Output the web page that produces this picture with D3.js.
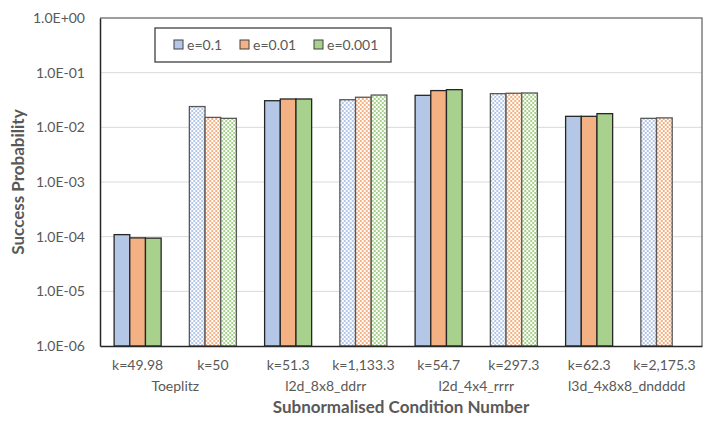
<!doctype html>
<html lang="en">
<head>
<meta charset="utf-8">
<title>Success Probability</title>
<style>
  body { margin: 0; background: #fff; }
  text { font-family: Lato, "Open Sans", sans-serif; }
</style>
</head>
<body>
<svg id="chart" width="718" height="425"></svg>

<script src="https://cdnjs.cloudflare.com/ajax/libs/d3/7.8.5/d3.min.js"></script>
<script>
const conditions = ['k=49.98', 'k=50', 'k=51.3', 'k=1,133.3', 'k=54.7', 'k=297.3', 'k=62.3', 'k=2,175.3'];
const matrices = ['Toeplitz', 'l2d_8x8_ddrr', 'l2d_4x4_rrrr', 'l3d_4x8x8_dndddd'];
const hatched = [false, true, false, true, false, true, false, true];
const seriesNames = ['e=0.1', 'e=0.01', 'e=0.001'];
const e01 = [1.09e-4, 0.024, 0.0307, 0.032, 0.0385, 0.0413, 0.0159, 0.0146];
const e001 = [9.5e-5, 0.0152, 0.033, 0.0355, 0.047, 0.042, 0.0159, 0.0149];
const e0001 = [9.4e-5, 0.0146, 0.033, 0.039, 0.0489, 0.0425, 0.0178, null];
const yTicks = [1e0, 1e-1, 1e-2, 1e-3, 1e-4, 1e-5, 1e-6];
const colors = ['#b4c7e7', '#f4b183', '#a9d18e'];

const series = [e01, e001, e0001];
const svg = d3.select('#chart');
const margin = { top: 18, right: 16, bottom: 79, left: 100 };
const width = 718 - margin.left - margin.right;
const height = 425 - margin.top - margin.bottom;

// checkerboard patterns
const defs = svg.append('defs');
colors.forEach((c, i) => {
  const p = defs.append('pattern')
    .attr('id', 'chk' + i)
    .attr('width', 4).attr('height', 4)
    .attr('patternUnits', 'userSpaceOnUse');
  p.append('rect').attr('width', 4).attr('height', 4).attr('fill', '#fff');
  p.append('rect').attr('width', 2).attr('height', 2).attr('fill', c);
  p.append('rect').attr('x', 2).attr('y', 2).attr('width', 2).attr('height', 2).attr('fill', c);
});

const g = svg.append('g').attr('transform', `translate(${margin.left},${margin.top})`);

const x0 = d3.scaleBand().domain(conditions).range([0, width]).paddingInner(0).paddingOuter(0);
const x1 = d3.scaleBand().domain(d3.range(3)).range([0, x0.bandwidth()]).paddingInner(0).paddingOuter(0.9);
const y = d3.scaleLog().domain([1e-6, 1]).range([height, 0]);

// gridlines
g.append('g').selectAll('line').data(yTicks.slice(1, -1)).join('line')
  .attr('x1', 0).attr('x2', width)
  .attr('y1', d => y(d)).attr('y2', d => y(d))
  .attr('stroke', '#d9d9d9').attr('stroke-width', 1);

// frame top/right
g.append('path')
  .attr('d', `M0,0H${width}V${height}`)
  .attr('fill', 'none').attr('stroke', '#7f7f7f').attr('stroke-width', 1.5);

// bars
const groups = g.append('g').selectAll('g').data(conditions).join('g')
  .attr('transform', d => `translate(${x0(d)},0)`);
groups.selectAll('rect')
  .data((d, i) => series.map((s, j) => ({ v: s[i], j, h: hatched[i] })).filter(b => b.v != null))
  .join('rect')
  .attr('x', b => x1(b.j))
  .attr('width', x1.bandwidth())
  .attr('y', b => y(b.v))
  .attr('height', b => height - y(b.v))
  .attr('fill', b => b.h ? `url(#chk${b.j})` : colors[b.j])
  .attr('stroke', b => b.h ? '#595959' : '#262626')
  .attr('stroke-width', 1.3);

// axes
const yAxis = g.append('g')
  .call(d3.axisLeft(y).tickValues(yTicks).tickFormat(d => '1.0E' + (Math.round(Math.log10(d)) === 0 ? '+00' : '-0' + Math.abs(Math.round(Math.log10(d))))).tickSize(0).tickPadding(15));
yAxis.select('.domain').attr('stroke', '#262626').attr('stroke-width', 1.5);
yAxis.selectAll('text').attr('font-size', 14).attr('fill', '#595959');

const xAxis = g.append('g').attr('transform', `translate(0,${height})`)
  .call(d3.axisBottom(x0).tickSize(0).tickPadding(14));
xAxis.select('.domain').attr('stroke', '#262626').attr('stroke-width', 1.5);
xAxis.selectAll('text').attr('font-size', 14).attr('fill', '#595959');

// matrix labels, centred under pairs
g.append('g').selectAll('text').data(matrices).join('text')
  .attr('x', (d, i) => x0(conditions[i * 2 + 1]))
  .attr('y', height + 45)
  .attr('text-anchor', 'middle')
  .attr('font-size', 14).attr('fill', '#595959')
  .text(d => d);

// axis titles
svg.append('text')
  .attr('x', margin.left + width / 2).attr('y', 413)
  .attr('text-anchor', 'middle')
  .attr('font-size', 17).attr('font-weight', 'bold').attr('fill', '#595959')
  .text('Subnormalised Condition Number');
svg.append('text')
  .attr('transform', `translate(24,${margin.top + height / 2}) rotate(-90)`)
  .attr('text-anchor', 'middle')
  .attr('font-size', 17).attr('font-weight', 'bold').attr('fill', '#595959')
  .text('Success Probability');

// legend
const legend = svg.append('g').attr('transform', 'translate(155,28)');
legend.append('rect').attr('width', 236).attr('height', 34)
  .attr('fill', '#fff').attr('stroke', '#404040').attr('stroke-width', 1.3);
const legX = [19, 85, 159];
const items = legend.selectAll('g').data(seriesNames).join('g')
  .attr('transform', (d, i) => `translate(${legX[i]},12)`);
items.append('rect').attr('width', 9).attr('height', 9)
  .attr('fill', (d, i) => colors[i]).attr('stroke', '#404040').attr('stroke-width', 1);
items.append('text').attr('x', 13).attr('y', 9.5)
  .attr('font-size', 14).attr('fill', '#595959')
  .text(d => d);
</script>
</body>
</html>
